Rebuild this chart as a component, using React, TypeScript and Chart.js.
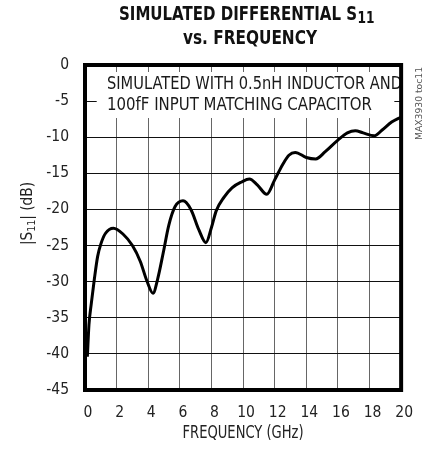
import React, { useEffect, useRef } from 'react';
import { Chart, registerables } from 'chart.js';

Chart.register(...registerables);

// ---- data ----
const freqGHz = [0.15, 0.25, 0.4, 0.6, 0.8, 1.0, 1.3, 1.8, 2.4, 3.0, 3.5, 3.9, 4.3, 4.6, 4.95, 5.3, 5.7, 6.2, 6.7, 7.2, 7.65, 8.0, 8.3, 8.8, 9.3, 9.9, 10.4, 10.9, 11.5, 12.0, 12.5, 12.9, 13.3, 14.0, 14.6, 15.2, 16.0, 16.6, 17.1, 17.6, 18.3, 18.8, 19.4, 20.0];
const s11dB = [-40.4, -36.0, -33.0, -29.5, -26.5, -24.8, -23.3, -22.6, -23.4, -25.0, -27.2, -29.8, -31.6, -29.6, -26.0, -22.2, -19.6, -18.8, -20.0, -22.8, -24.6, -22.5, -20.2, -18.3, -17.0, -16.2, -15.8, -16.6, -17.9, -15.9, -13.8, -12.5, -12.1, -12.8, -13.0, -12.0, -10.4, -9.4, -9.1, -9.4, -9.8, -9.0, -7.9, -7.2];

const xTickValues = [0, 2, 4, 6, 8, 10, 12, 14, 16, 18, 20];
const yTickValues = [0, -5, -10, -15, -20, -25, -30, -35, -40, -45];

const titleMain = 'SIMULATED DIFFERENTIAL S';
const titleSub = '11';
const titleLine2 = 'vs. FREQUENCY';
const noteLines = ['SIMULATED WITH 0.5nH INDUCTOR AND', '100fF INPUT MATCHING CAPACITOR'];
const xTitle = 'FREQUENCY (GHz)';
const yTitleParts = ['|S', '11', '| (dB)'];
const sideNote = 'MAX3930 toc11';

const FONT = "'DejaVu Sans Condensed', 'Liberation Sans', sans-serif";

// draw text squeezed/stretched horizontally to a given width
function fitText(ctx: CanvasRenderingContext2D, text: string, x: number, y: number, width: number, align: 'left' | 'center') {
  const w = ctx.measureText(text).width;
  const sx = width / w;
  ctx.save();
  ctx.translate(x, y);
  ctx.scale(sx, 1);
  ctx.textAlign = 'left';
  ctx.fillText(text, align === 'center' ? -w / 2 : 0, 0);
  ctx.restore();
}

const decor = {
  id: 'decor',
  beforeDatasetsDraw(chart: any) {
    const { ctx, chartArea, scales } = chart;
    const xs = scales.x;
    const ys = scales.y;
    const l = xs.getPixelForValue(0.74);
    const r = xs.getPixelForValue(19.57);
    const t = ys.getPixelForValue(-0.97);
    const b = ys.getPixelForValue(-7.34);
    ctx.save();
    ctx.fillStyle = '#fff';
    ctx.fillRect(l, t, r - l, b - t);
    ctx.fillStyle = '#1a1a1a';
    ctx.font = `18px ${FONT}`;
    ctx.textBaseline = 'middle';
    fitText(ctx, noteLines[0], chartArea.left + 22, chartArea.top + 19.5, 295, 'left');
    fitText(ctx, noteLines[1], chartArea.left + 22, chartArea.top + 40.5, 265, 'left');
    ctx.restore();
  },
  afterDraw(chart: any) {
    const { ctx, chartArea } = chart;
    ctx.save();
    // frame
    ctx.strokeStyle = '#000';
    ctx.lineWidth = 4;
    ctx.strokeRect(chartArea.left, chartArea.top, chartArea.right - chartArea.left, chartArea.bottom - chartArea.top);

    // title
    ctx.fillStyle = '#111';
    ctx.textBaseline = 'middle';
    ctx.font = `bold 19.5px ${FONT}`;
    fitText(ctx, titleMain, 119, 14.5, 238, 'left');
    ctx.font = `bold 15px ${FONT}`;
    fitText(ctx, titleSub, 357.5, 19, 17, 'left');
    ctx.font = `bold 19.5px ${FONT}`;
    fitText(ctx, titleLine2, 250, 39, 134, 'center');

    // x axis title
    ctx.fillStyle = '#222';
    ctx.font = `17px ${FONT}`;
    fitText(ctx, xTitle, (chartArea.left + chartArea.right) / 2, 434, 121, 'center');

    // y axis title with subscript
    ctx.save();
    ctx.translate(28, 213.5);
    ctx.rotate(-Math.PI / 2);
    const f1 = `16px ${FONT}`;
    const f2 = `11px ${FONT}`;
    ctx.font = f1;
    const a = ctx.measureText(yTitleParts[0]).width;
    const c = ctx.measureText(yTitleParts[2]).width;
    ctx.font = f2;
    const bw = ctx.measureText(yTitleParts[1]).width;
    const total = a + bw + c;
    ctx.scale(63 / total, 1);
    let px = -total / 2;
    ctx.textAlign = 'left';
    ctx.font = f1;
    ctx.fillText(yTitleParts[0], px, 0);
    px += a;
    ctx.font = f2;
    ctx.fillText(yTitleParts[1], px, 4);
    px += bw;
    ctx.font = f1;
    ctx.fillText(yTitleParts[2], px, 0);
    ctx.restore();

    // side note
    ctx.save();
    ctx.translate(420, 103.5);
    ctx.rotate(-Math.PI / 2);
    ctx.font = `9px ${FONT}`;
    ctx.fillStyle = '#555';
    fitText(ctx, sideNote, 0, 0, 73, 'center');
    ctx.restore();

    ctx.restore();
  },
};

export default function App() {
  const ref = useRef<HTMLCanvasElement | null>(null);
  useEffect(() => {
    document.body.style.margin = '0';
    const canvas = ref.current;
    if (!canvas) return;
    const chart = new Chart(canvas, {
      type: 'line',
      data: {
        datasets: [
          {
            data: freqGHz.map((f, i) => ({ x: f, y: s11dB[i] })),
            borderColor: '#000',
            borderWidth: 3,
            pointRadius: 0,
            fill: false,
            cubicInterpolationMode: 'monotone',
          },
        ],
      },
      options: {
        animation: false,
        responsive: false,
        devicePixelRatio: 1,
        layout: { padding: { top: 65, right: 14, left: 0, bottom: 0 } },
        plugins: { legend: { display: false }, tooltip: { enabled: false }, title: { display: false } },
        scales: {
          x: {
            type: 'linear',
            min: 0,
            max: 20,
            afterBuildTicks: (s: any) => {
              s.ticks = xTickValues.map((v) => ({ value: v }));
            },
            afterFit: (s: any) => {
              s.height = 65;
            },
            ticks: { color: '#222', font: { family: FONT, size: 15.5 }, padding: 14, labelOffset: 3, maxRotation: 0, autoSkip: false },
            grid: { color: '#666', lineWidth: 1, drawTicks: false },
            border: { display: false },
          },
          y: {
            type: 'linear',
            min: -45,
            max: 0,
            afterBuildTicks: (s: any) => {
              s.ticks = yTickValues.map((v) => ({ value: v }));
            },
            afterFit: (s: any) => {
              s.width = 85;
            },
            ticks: { color: '#222', font: { family: FONT, size: 15.5 }, padding: 16, autoSkip: false },
            grid: { color: '#111', lineWidth: 1, drawTicks: false },
            border: { display: false },
          },
        },
      },
      plugins: [decor],
    } as any);
    return () => chart.destroy();
  }, []);
  return <canvas ref={ref} width={424} height={455} style={{ display: 'block' }} />;
}
